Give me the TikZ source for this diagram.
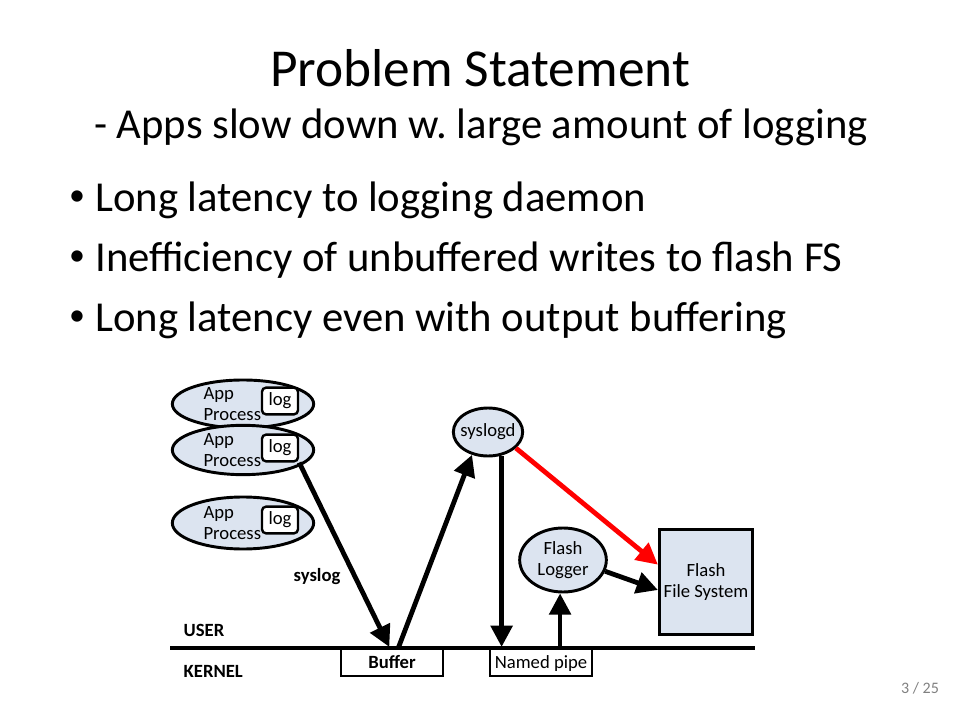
\documentclass[tikz,border=0pt]{standalone}
\usepackage{fontspec}
\setmainfont{Carlito}
\usetikzlibrary{arrows.meta,shapes.geometric}

\definecolor{procblue}{RGB}{220,228,240}

\begin{document}
\frenchspacing
\begin{tikzpicture}[x=0.75pt,y=-0.75pt,
		proc/.style={ellipse,draw,line width=2.2pt,fill=procblue,inner sep=0pt},
		logbox/.style={draw,line width=1.8pt,fill=white,rounded corners=3pt,minimum width=27pt,minimum height=20pt,inner sep=0pt,font=\fontsize{14}{16}\selectfont},
		kbox/.style={draw,line width=1.6pt,fill=white,minimum width=76pt,minimum height=21pt,inner sep=0pt,text height=11pt,text depth=2pt,font=\fontsize{14}{16}\selectfont},
		small/.style={font=\fontsize{14}{16}\selectfont},
		smallbf/.style={font=\fontsize{14}{16}\selectfont\bfseries},
		flow/.style={line width=3.6pt,-{Triangle[length=16pt,width=16pt]}},
		dot/.style={font=\fontsize{24}{28}\selectfont},
		item/.style={anchor=west,inner sep=0pt,font=\fontsize{32}{38}\selectfont}]
			\useasboundingbox (0,0) rectangle (960,720);
			% title
			\node[font=\fontsize{40}{48}\selectfont] (title) at (480,68) {Problem Statement};
			\node[font=\fontsize{32}{38}\selectfont] (subtitle) at (481,127) {- Apps slow down w. large amount of logging};
			% bullets
			\node[dot] (d1) at (77,198) {\textbullet};
			\node[item] (b1) at (95,200) {Long latency to logging daemon};
			\node[dot] (d2) at (77,258) {\textbullet};
			\node[item] (b2) at (95,260) {Inefficiency of unbuffered writes to flash FS};
			\node[dot] (d3) at (77,318) {\textbullet};
			\node[item] (b3) at (95,320) {Long latency even with output buffering};
			% processes
			\node[proc,minimum width=106pt,minimum height=36pt,label={[small,align=left,xshift=-8pt]center:App\\Process}] (p1) at (243,404) {};
			\node[logbox] (lg1) at (280,401) {log};
			\node[proc,minimum width=106pt,minimum height=37pt,label={[small,align=left,xshift=-8pt]center:App\\Process}] (p2) at (243,450) {};
			\node[logbox] (lg2) at (280,448) {log};
			\node[proc,minimum width=106pt,minimum height=39pt,label={[small,align=left,xshift=-8pt]center:App\\Process}] (p3) at (243,523) {};
			\node[logbox] (lg3) at (280,520) {log};
			% daemons
			\node[proc,minimum width=52pt,minimum height=36pt,label={[small]center:syslogd}] (sd) at (488,432) {};
			\node[proc,minimum width=65pt,minimum height=48pt,label={[small,align=center]center:Flash\\Logger}] (fl) at (563,560) {};
			\node[draw,line width=2pt,fill=procblue,minimum width=69pt,minimum height=79pt,small,align=center] (ffs) at (706,582) {Flash\\File System};
			% kernel side
			\node[kbox,font=\fontsize{14}{16}\selectfont\bfseries] (buf) at (392,662) {Buffer};
			\node[kbox] (np) at (541,662) {Named pipe};
			\coordinate (divl) at (170,648);
			\coordinate (divr) at (755,648);
			\draw[line width=2.3pt] (divl) -- (divr);
			\node[smallbf,anchor=west] (user) at (179,630) {USER};
			\node[smallbf,anchor=west] (kernel) at (179,671) {KERNEL};
			\node[smallbf] (sl) at (317,577) {syslog};
			% flows
			\draw[flow] (lg2.south east) -- ([xshift=-2pt]buf.north);
			\draw[flow] ([xshift=5pt]buf.north) -- (sd.235);
			\draw[flow] (sd.300) -- (sd.300 |- np.north);
			\draw[flow] (fl.265 |- np.north) -- (fl.265);
			\draw[flow] (fl.-15) -- ([yshift=-6pt]ffs.west);
			\draw[flow,red] (sd.-30) -- ([yshift=13pt]ffs.west);
			% page number
			\node[font=\fontsize{12}{14}\selectfont,text=gray] (pg) at (920,688) {3 / 25};
\end{tikzpicture}
\end{document}
